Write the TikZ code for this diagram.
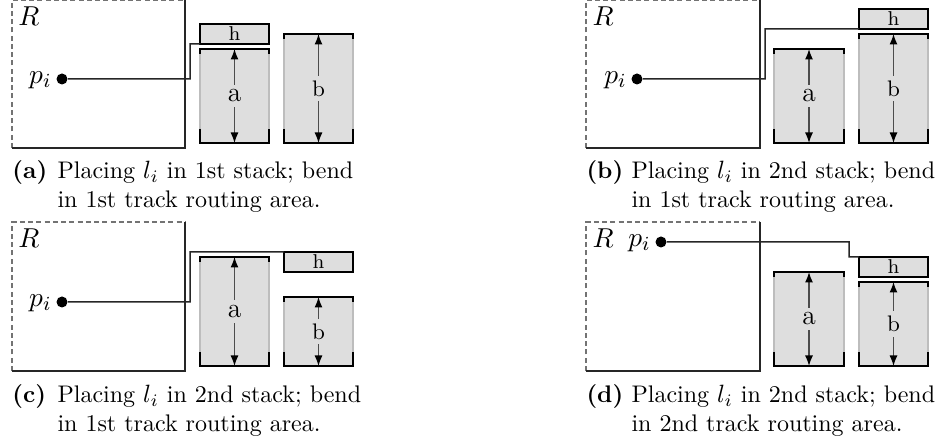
\documentclass[tikz,border=0pt]{standalone}
\usetikzlibrary{arrows.meta}
\definecolor{boxgray}{HTML}{DEDEDE}
\definecolor{sidegray}{HTML}{BDBDBD}
\newcommand{\stackcol}[6]{%
  \fill[boxgray] (#2,#3) rectangle (#4,#5);
  \draw[sideline] (#2,#3) -- (#2,#5) (#4,#3) -- (#4,#5);
  \draw[edgeblack] (#2,#3+5) -- (#2,#3) -- (#4,#3) -- (#4,#3+5);
  \draw[edgeblack] (#2,#5-14) -- (#2,#5) -- (#4,#5) -- (#4,#5-14);
  \coordinate (#1top) at ({(#2+#4)/2},#3);
  \coordinate (#1bot) at ({(#2+#4)/2},#5);
  \draw[dimline] (#1top) -- node[stlabel] (#1lab) {#6} (#1bot);
}
\newcommand{\rregion}[4]{%
  \draw[rdash] (#1,#4) -- (#1,#2) -- (#3,#2);
  \draw[rsolid] (#3,#2) -- (#3,#4) -- (#1,#4);
}
\begin{document}
\begin{tikzpicture}[x=0.4pt,y=-0.4pt,
  rdash/.style={draw=black!55, line width=0.55pt, dash pattern=on 2pt off 1.3pt},
  rsolid/.style={draw=black!85, line width=0.55pt},
  hbox/.style={draw=black, fill=boxgray, line width=0.5pt, minimum width=27.6pt, minimum height=8pt, inner sep=0pt, outer sep=0pt, font=\footnotesize},
  edgeblack/.style={draw=black, line width=0.5pt},
  sideline/.style={draw=sidegray, line width=0.5pt},
  dimline/.style={draw=black!70, line width=0.55pt, >={Latex[length=4.2pt,width=3.2pt,color=black]}, <->},
  stlabel/.style={fill=boxgray, inner sep=2pt},
  dot/.style={circle, fill=black, inner sep=0pt, minimum size=4.4pt},
  route/.style={draw=black!85, line width=0.6pt},
  rlab/.style={anchor=base west, inner sep=0pt, font=\fontsize{11}{13}\selectfont},
  plab/.style={anchor=base east, inner sep=1.6pt, font=\fontsize{11}{13}\selectfont},
  caplab/.style={anchor=base west, inner sep=0pt, font=\fontsize{9.6}{11.5}\selectfont\bfseries},
  captext/.style={anchor=base west, inner sep=0pt, font=\fontsize{9.6}{11.5}\selectfont},
  ]
\useasboundingbox (0,0) rectangle (939,444);

% ---------- (a)
\rregion{12}{0}{185}{148}
\node[rlab] (Ra) at (18,26) {$R$};
\stackcol{aa}{200}{49}{269}{143}{\fontsize{11}{13}\selectfont a}
\stackcol{ba}{284}{34}{353}{143}{\small b}
\node[hbox] (ha) at (234.5,34) {h};
\node[dot] (pa) at (62,79) {};
\node[plab] (pla) at ([yshift=-1.7pt]pa.west) {$p_i$};
\coordinate (ka) at (190,44);
\draw[route] (pa) -| (ka) -- (ha.south west);
\node[caplab] (cla) at (12,179) {(a)};
\node[captext] (cta) at (57,179) {Placing $l_i$ in 1st stack; bend};
\node[captext] (cta2) at (57,208) {in 1st track routing area.};

% ---------- (b)
\rregion{586}{0}{760}{148}
\node[rlab] (Rb) at (592,26) {$R$};
\stackcol{ab}{774}{49}{844}{143}{\fontsize{11}{13}\selectfont a}
\stackcol{bb}{859}{34}{928}{143}{\small b}
\node[hbox] (hb) at (893.5,19) {h};
\node[dot] (pb) at (637,79) {};
\node[plab] (plb) at ([yshift=-1.7pt]pb.west) {$p_i$};
\coordinate (kb) at (765,29);
\draw[route] (pb) -| (kb) -- (hb.south west);
\node[caplab] (clb) at (586,179) {(b)};
\node[captext] (ctb) at (631,179) {Placing $l_i$ in 2nd stack; bend};
\node[captext] (ctb2) at (631,208) {in 1st track routing area.};

% ---------- (c)
\rregion{12}{222}{185}{371}
\node[rlab] (Rc) at (18,248) {$R$};
\stackcol{ac}{200}{257}{269}{366}{\fontsize{11}{13}\selectfont a}
\stackcol{bc}{284}{297}{353}{366}{\small b}
\node[hbox] (hc) at (318.5,262) {h};
\node[dot] (pc) at (62,302) {};
\node[plab] (plc) at ([yshift=-1.7pt]pc.west) {$p_i$};
\coordinate (kc) at (190,252);
\draw[route] (pc) -| (kc) -- (hc.north west);
\node[caplab] (clc) at (12,403) {(c)};
\node[captext] (ctc) at (57,403) {Placing $l_i$ in 2nd stack; bend};
\node[captext] (ctc2) at (57,432) {in 1st track routing area.};

% ---------- (d)
\rregion{586}{222}{760}{371}
\node[rlab] (Rd) at (592,248) {$R$};
\stackcol{ad}{774}{272}{844}{366}{\fontsize{11}{13}\selectfont a}
\stackcol{bd}{859}{282}{928}{366}{\small b}
\node[hbox] (hd) at (893.5,267) {h};
\node[dot] (pd) at (661,242) {};
\node[plab] (pld) at ([yshift=-1.7pt]pd.west) {$p_i$};
\coordinate (kd) at (849,257);
\draw[route] (pd) -| (kd) -- (hd.north west);
\node[caplab] (cld) at (586,403) {(d)};
\node[captext] (ctd) at (631,403) {Placing $l_i$ in 2nd stack; bend};
\node[captext] (ctd2) at (631,432) {in 2nd track routing area.};
\end{tikzpicture}
\end{document}
